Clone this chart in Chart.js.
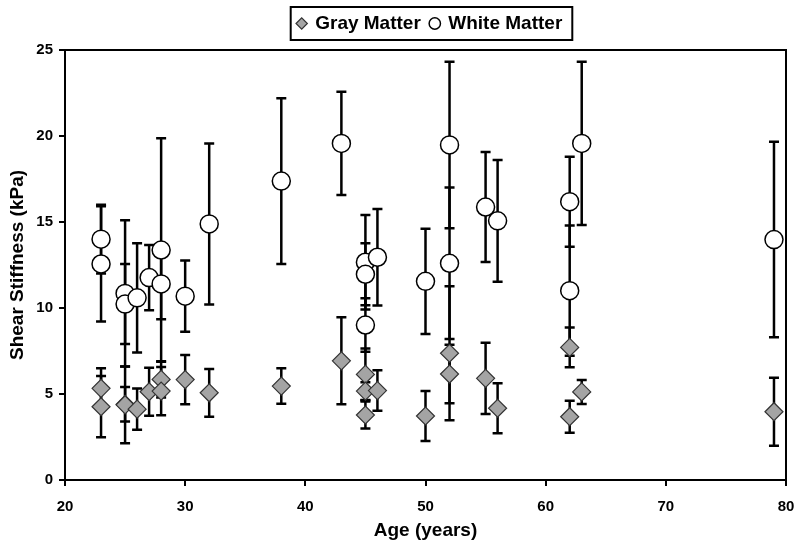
<!DOCTYPE html>
<html>
<head>
<meta charset="utf-8">
<script src="https://cdn.jsdelivr.net/npm/chart.js@4.4.0/dist/chart.umd.min.js"></script>
<style>
  html, body { margin: 0; padding: 0; background: #fff; }
</style>
</head>
<body>
<canvas id="stiffChart" width="800" height="553"></canvas>
<script>
// values (mean +/- error bar)
const grayAge  = [23, 23, 25, 25, 26, 27, 28, 28, 30, 32, 38, 43, 45, 45, 45, 46, 50, 52, 52, 55, 56, 62, 62, 63, 79]
const grayMean = [5.33, 4.26, 4.4, 4.37, 4.12, 5.13, 5.85, 5.17, 5.84, 5.07, 5.46, 6.93, 6.14, 5.17, 3.78, 5.2, 3.72, 7.37, 6.16, 5.91, 4.17, 7.71, 3.68, 5.12, 3.97]
const grayErr  = [1.16, 1.78, 1.0, 2.23, 1.2, 1.4, 1.05, 1.4, 1.43, 1.39, 1.03, 2.53, 1.5, 0.52, 0.78, 1.18, 1.45, 3.9, 1.7, 2.07, 1.45, 1.16, 0.93, 0.7, 1.98]

const whiteAge  = [23, 23, 25, 25, 26, 27, 28, 28, 30, 32, 38, 43, 45, 45, 45, 46, 50, 52, 52, 55, 56, 62, 62, 63, 79]
const whiteMean = [14.0, 12.56, 10.85, 10.23, 10.59, 11.77, 13.37, 11.4, 10.69, 14.89, 17.38, 19.57, 12.66, 11.96, 9.01, 12.95, 11.55, 19.48, 12.6, 15.87, 15.07, 16.18, 11.01, 19.57, 13.98]
const whiteErr  = [2.0, 3.35, 4.25, 2.33, 3.17, 1.9, 6.5, 2.06, 2.07, 4.68, 4.82, 3.0, 2.75, 1.8, 1.55, 2.8, 3.06, 4.84, 4.4, 3.2, 3.54, 2.62, 3.78, 4.75, 5.68]

const ageTicks = [20, 30, 40, 50, 60, 70, 80]
const stiffTicks = [0, 5, 10, 15, 20, 25]

const errors = [grayErr, whiteErr]
const font = 'Liberation Sans, Arial, Helvetica, sans-serif'

function points(xs, ys) {
    return xs.map((x, i) => ({ x: x, y: ys[i] }))
}

// vertical error bars with caps, drawn under the markers
const errorBars = {
    id: 'errorBars',
    beforeDatasetsDraw(chart) {
        const ctx = chart.ctx
        const xs = chart.scales.x, ys = chart.scales.y
        ctx.save()
        ctx.strokeStyle = '#000'
        ctx.lineWidth = 2.5
        chart.data.datasets.forEach((ds, d) => {
            ds.data.forEach((p, i) => {
                const px = xs.getPixelForValue(p.x)
                const top = ys.getPixelForValue(p.y + errors[d][i])
                const bot = ys.getPixelForValue(p.y - errors[d][i])
                ctx.beginPath()
                ctx.moveTo(px, top); ctx.lineTo(px, bot)
                ctx.moveTo(px - 5, top); ctx.lineTo(px + 5, top)
                ctx.moveTo(px - 5, bot); ctx.lineTo(px + 5, bot)
                ctx.stroke()
            })
        })
        ctx.restore()
    }
}

// closed frame round the plot + box round the legend
const frame = {
    id: 'frame',
    afterInit(chart) {
        const lg = chart.legend
        const fit = lg.fit
        lg.fit = function () { fit.call(this); this.height += 7 }
    },
    afterLayout(chart) {
        chart.legend.left += 37
        chart.legend.right += 37
    },
    afterDraw(chart) {
        const ctx = chart.ctx
        const a = chart.chartArea
        ctx.save()
        ctx.strokeStyle = '#000'
        ctx.lineWidth = 2
        ctx.strokeRect(a.left, a.top, a.right - a.left, a.bottom - a.top)
        const hb = chart.legend.legendHitBoxes
        if (hb && hb.length) {
            const first = hb[0], last = hb[hb.length - 1]
            const l = first.left - 7
            const r = last.left + last.width + 10
            const t = first.top - 7
            const b = first.top + first.height + 7
            ctx.strokeRect(l, t, r - l, b - t)
        }
        ctx.restore()
    }
}

new Chart(document.getElementById('stiffChart'), {
    type: 'scatter',
    data: {
        datasets: [{
            label: 'Gray Matter',
            data: points(grayAge, grayMean),
            pointStyle: 'rectRot',
            pointRadius: 9,
            backgroundColor: '#a4a4a4',
            borderColor: '#333',
            borderWidth: 1.2
        }, {
            label: 'White Matter',
            data: points(whiteAge, whiteMean),
            pointStyle: 'circle',
            pointRadius: 9,
            backgroundColor: '#fff',
            borderColor: '#000',
            borderWidth: 1.5
        }]
    },
    options: {
        responsive: false,
        animation: false,
        events: [],
        layout: { padding: { top: 4, right: 14, left: 0, bottom: 0 } },
        plugins: {
            tooltip: { enabled: false },
            legend: {
                display: true,
                position: 'top',
                labels: {
                    usePointStyle: true,
                    boxWidth: 8,
                    boxHeight: 8,
                    padding: 10,
                    color: '#000',
                    font: { family: font, size: 19, weight: 'bold' }
                }
            }
        },
        scales: {
            x: {
                type: 'linear',
                min: ageTicks[0],
                max: ageTicks[ageTicks.length - 1],
                afterFit(scale) {
                    scale.height = 73
                    scale.paddingLeft = 0
                    scale.paddingRight = 0
                },
                ticks: {
                    stepSize: ageTicks[1] - ageTicks[0],
                    color: '#000',
                    padding: 12,
                    font: { family: font, size: 15, weight: 'bold' }
                },
                grid: { drawOnChartArea: false, drawTicks: true, tickLength: 6, color: '#000', lineWidth: 2 },
                border: { display: true, color: '#000', width: 2 },
                title: {
                    display: true,
                    text: 'Age (years)',
                    color: '#000',
                    padding: { top: 0, bottom: 11 },
                    font: { family: font, size: 19, weight: 'bold' }
                }
            },
            y: {
                min: stiffTicks[0],
                max: stiffTicks[stiffTicks.length - 1],
                afterFit(scale) { scale.width = 65 },
                ticks: {
                    stepSize: stiffTicks[1] - stiffTicks[0],
                    color: '#000',
                    padding: 6,
                    font: { family: font, size: 15, weight: 'bold' }
                },
                grid: { drawOnChartArea: false, drawTicks: true, tickLength: 6, color: '#000', lineWidth: 2 },
                border: { display: true, color: '#000', width: 2 },
                title: {
                    display: true,
                    text: 'Shear Stiffness (kPa)',
                    color: '#000',
                    padding: { top: 6, bottom: 0 },
                    font: { family: font, size: 19, weight: 'bold' }
                }
            }
        }
    },
    plugins: [errorBars, frame]
})
</script>
</body>
</html>
